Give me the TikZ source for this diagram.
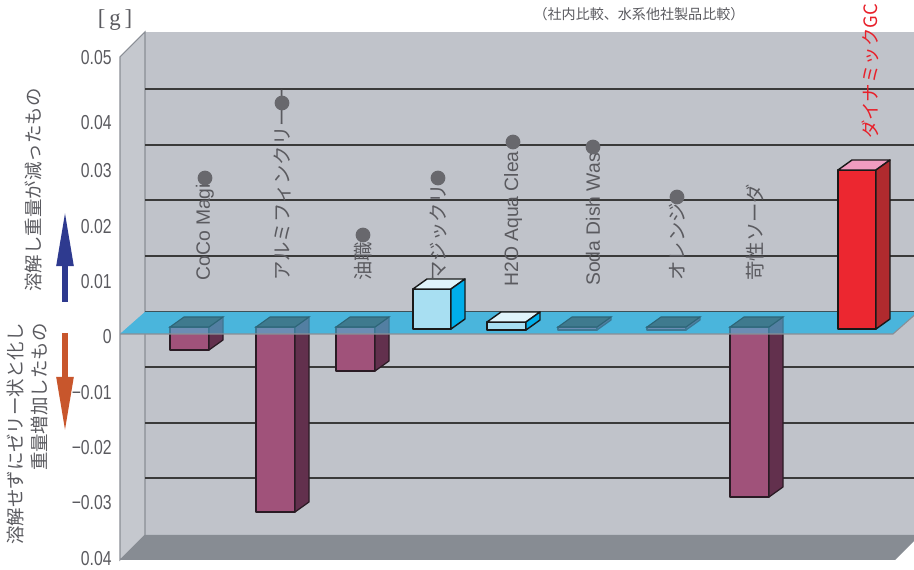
\documentclass[tikz,border=0pt]{standalone}
\usepackage{fontspec}
\setmainfont{Liberation Sans}
\newfontfamily\jp{Noto Sans CJK JP}
\newfontfamily\numfont[FakeStretch=0.78]{Liberation Sans}
\newfontfamily\gfont{Liberation Serif}
\usetikzlibrary{arrows.meta}

\definecolor{wallback}{HTML}{C0C3CA}
\definecolor{wallside}{HTML}{C5C8CE}
\definecolor{wallline}{HTML}{8A8E95}
\definecolor{floorgray}{HTML}{878C93}
\definecolor{gridgray}{HTML}{3A3A3A}
\definecolor{plane}{HTML}{4AB5DC}
\definecolor{mauve}{HTML}{A0527A}
\definecolor{mauvedark}{HTML}{62304D}
\definecolor{mauveedge}{HTML}{2A1B24}
\definecolor{bartop}{HTML}{3F7A8E}
\definecolor{bartopedge}{HTML}{2D6577}
\definecolor{icefront}{HTML}{A8DFF2}
\definecolor{icetop}{HTML}{E0F4FB}
\definecolor{iceside}{HTML}{00AEE9}
\definecolor{gcfront}{HTML}{EC2730}
\definecolor{gctop}{HTML}{F09CC0}
\definecolor{gcside}{HTML}{B02A2E}
\definecolor{dotgray}{HTML}{68686D}
\definecolor{textgray}{HTML}{5A5A5F}
\definecolor{arrowblue}{HTML}{2E3A8F}
\definecolor{arroworange}{HTML}{C8562C}
\definecolor{labelred}{HTML}{E8202A}

% bar below zero: x left, x right, bottom
\newcommand{\negbar}[3]{%
  \filldraw[fill=mauve,baredge] (#1,327) rectangle (#2,#3);
  \filldraw[fill=mauvedark,baredge] (#2,327) -- (#2+14,317) -- (#2+14,#3-10) -- (#2,#3) -- cycle;
}
% bar above zero: x left, x right, top, bottom, colour prefix
\newcommand{\posbox}[5]{%
  \filldraw[fill=#5front,boxedge] (#1,#3) rectangle (#2,#4);
  \filldraw[fill=#5top,boxedge] (#1,#3) -- (#1+14,#3-10) -- (#2+14,#3-10) -- (#2,#3) -- cycle;
  \filldraw[fill=#5side,boxedge] (#2,#3) -- (#2+14,#3-10) -- (#2+14,#4-10) -- (#2,#4) -- cycle;
}

\begin{document}
\begin{tikzpicture}[x=0.02cm,y=-0.02cm,
  wall/.style={draw=wallline,line width=0.6pt},
  gridline/.style={draw=gridgray,line width=0.7pt},
  baredge/.style={draw=mauveedge,line width=0.7pt,line join=round},
  boxedge/.style={draw=black!90,line width=0.8pt,line join=round},
  catlabel/.style={rotate=90,anchor=west,inner sep=0pt,text=textgray,font=\fontsize{11}{13}\selectfont},
  sidelabel/.style={rotate=90,inner sep=0pt,text=textgray,font=\jp\fontsize{10.5}{14}\selectfont},
  tick/.style={anchor=east,inner sep=0pt,text=textgray,font=\numfont\fontsize{11.5}{13}\selectfont},
  bigarrow/.style={line width=3.4pt,-{Triangle[width=9pt,length=32pt]}}]
\useasboundingbox (0,0) rectangle (914,570);
\clip (0,0) rectangle (914,570);

% walls and floor
\fill[wallback] (145,32) rectangle (914,535);
\filldraw[fill=wallside,wall] (120,57) -- (145,32) -- (145,535) -- (120,560) -- cycle;
\fill[floorgray] (120,560) -- (145,535) -- (920,535) -- (895,560) -- cycle;
\foreach \y in {89,145,200,256,312,367,423,478}{
	\draw[gridline] (145,\y) -- (914,\y);
}

% zero plane
\fill[plane] (120,334) -- (145,312) -- (918,312) -- (893,334) -- cycle;
\foreach \a/\b/\h in {170/209/350,256/295/512,336/375/371,558/597/330,647/686/330,730/769/497}{
	\negbar{\a}{\b}{\h}
}
\fill[plane,fill opacity=0.6] (120,334) -- (145,312) -- (918,312) -- (893,334) -- cycle;
\foreach \a/\b in {170/209,256/295,336/375,558/597,647/686,730/769}{
	\filldraw[fill=bartop,draw=bartopedge,line width=0.6pt] (\a,327) -- (\a+14,317) -- (\b+14,317) -- (\b,327) -- cycle;
}
\draw[wall] (120,334) -- (893,334) -- (918,312);

\posbox{413}{451}{289}{329}{ice}
\posbox{487}{526}{322}{330}{ice}
\posbox{838}{876}{170}{329}{gc}

% product names
\foreach \x/\y/\t in {205/281/CoCo Magi,282/281/{\jp アルミフィンクリーー},363/281/{\jp 油職},438/281/{\jp マジックリ},513/287/H2O Aqua Clea,593/286/Soda Dish Was,677/281/{\jp オレンジ},755/281/{\jp 苛性ソーダ}}{
	\node[catlabel] (c\x) at (\x,\y) {\t};
}
\node[catlabel,text=labelred,font=\jp\fontsize{10.5}{13}\selectfont] (gc) at (870,139) {ダイナミックGC};
\foreach \x/\y in {205/178,282/103,363/235,438/178,513/142,593/147,677/197}{
	\fill[dotgray] (\x,\y) circle[radius=4.2pt];
}

% axis
\foreach \v/\y in {0.05/58,0.04/123,0.03/171,0.02/227,0.01/282,0/337,−0.01/393,−0.02/448,−0.03/503,0.04/559}{
	\node[tick] (n\y) at (112,\y) {\v};
}
\node[text=textgray,font=\gfont\fontsize{13}{15}\selectfont] (unit) at (115,20) {[\,g\,]};
\node[text=textgray,font=\jp\fontsize{8}{10}\selectfont] (note) at (639,14) {（社内比較、水系他社製品比較）};
\node[sidelabel] (up) at (33,190) {溶解し重量が減ったもの};
\node[sidelabel,anchor=east,align=right] (down) at (27.5,323) {溶解せずにゼリー状と化し\\重量増加したもの};
\coordinate (ub) at (65,302);
\coordinate (ut) at (65,210);
\coordinate (db) at (65,333);
\coordinate (dt) at (65,433);
\draw[bigarrow,arrowblue] (ub) -- (ut);
\draw[bigarrow,arroworange] (db) -- (dt);
\end{tikzpicture}
\end{document}
